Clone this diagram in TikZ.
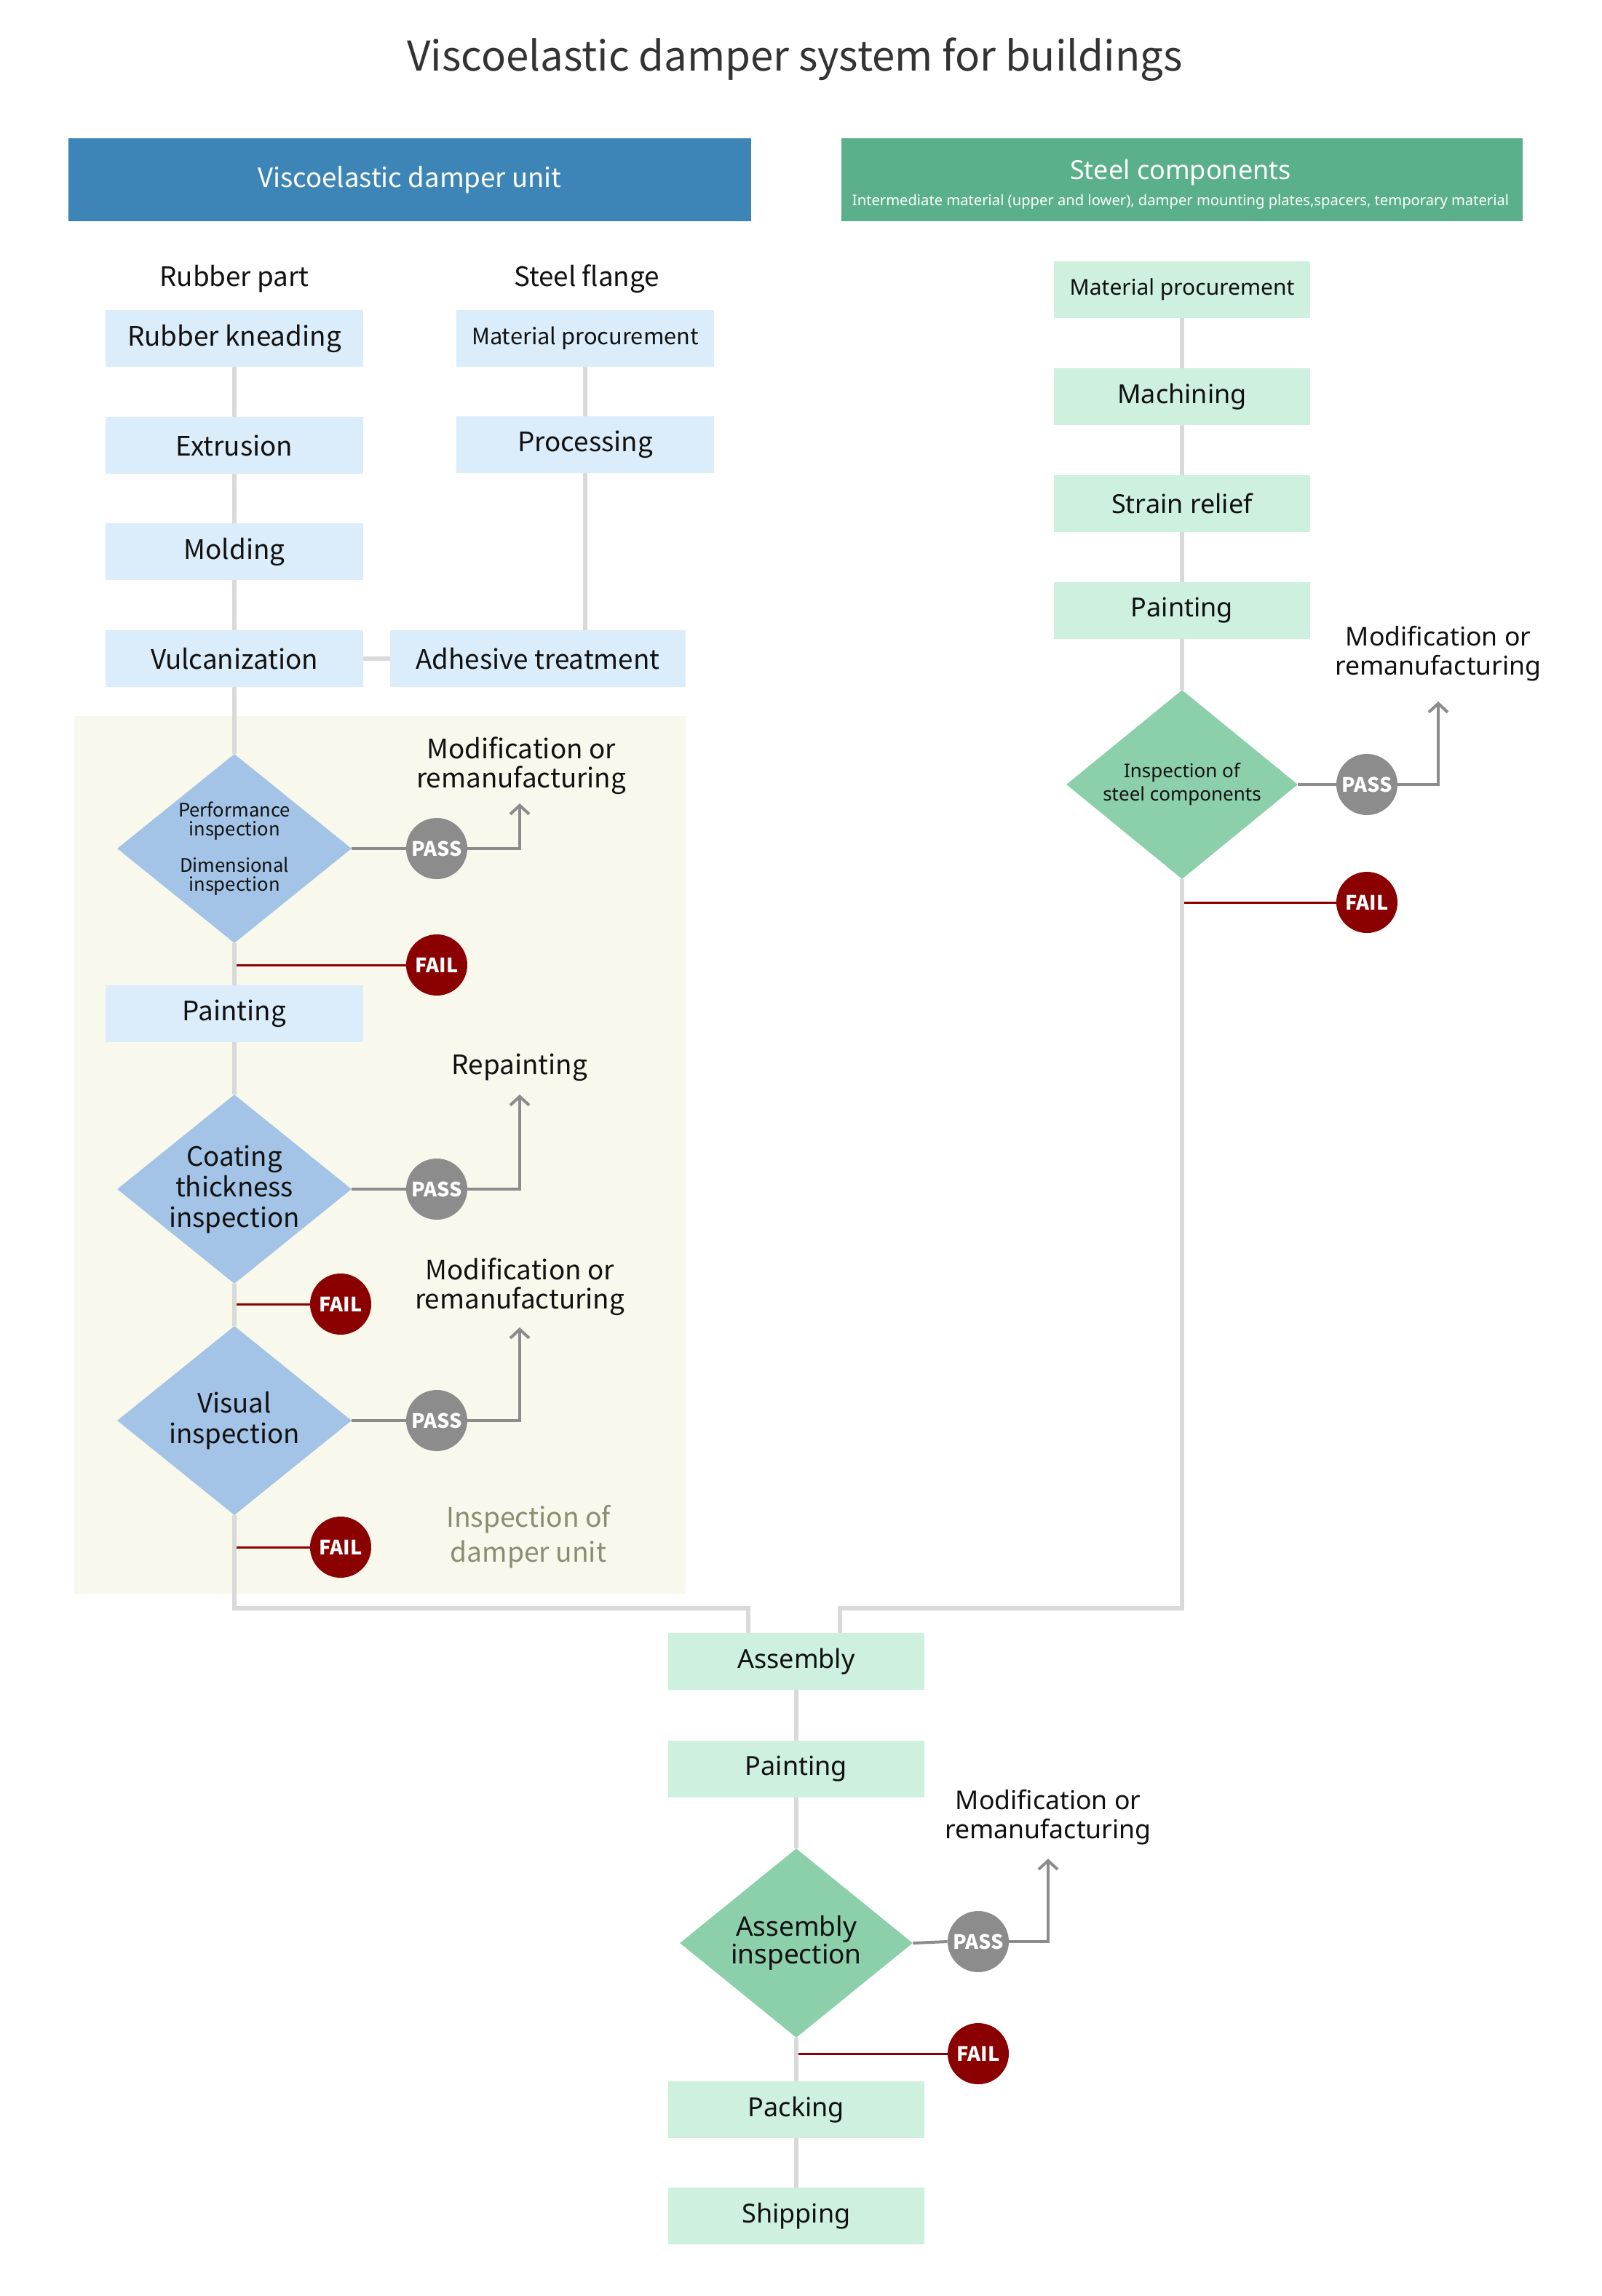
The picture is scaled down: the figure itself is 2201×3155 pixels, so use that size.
\documentclass[tikz,border=0pt]{standalone}
\usepackage{fontspec}
\setmainfont{Noto Sans CJK JP}
\newfontfamily\srcs{Noto Sans CJK JP}
\newfontfamily\nsans{Noto Sans}
\usetikzlibrary{shapes.geometric,arrows.meta,calc}
\definecolor{hdrblue}{HTML}{3D85B7}
\definecolor{hdrgreen}{HTML}{59B08A}
\definecolor{boxblue}{HTML}{DBEDFB}
\definecolor{boxgreen}{HTML}{CDF0DF}
\definecolor{diablue}{HTML}{A3C4E6}
\definecolor{diagreen}{HTML}{8CCFAB}
\definecolor{ivory}{HTML}{F8F8EC}
\definecolor{conngray}{HTML}{D9D9D9}
\definecolor{passgray}{HTML}{8C8C8C}
\definecolor{failred}{HTML}{8B0000}
\definecolor{olive}{HTML}{8C8C74}
\definecolor{titlec}{HTML}{333333}
\definecolor{txt}{HTML}{111111}
\newcommand\fs[2]{\fontsize{#1pt}{#2pt}\selectfont}
\begin{document}
\begin{tikzpicture}[x=0.5pt,y=-0.5pt,
  lbox/.style={fill=boxblue, minimum width=177pt, minimum height=39pt, inner sep=0pt, text=txt, font=\srcs\fs{18.4}{22}},
  gbox/.style={fill=boxgreen, minimum width=176pt, minimum height=39pt, inner sep=0pt, text=txt, font=\nsans\fs{18}{22}},
  ddia/.style={diamond, fill=diablue, minimum width=161pt, minimum height=130pt, inner sep=0pt},
  gdia/.style={diamond, fill=diagreen, minimum width=160pt, minimum height=130pt, inner sep=0pt},
  pass/.style={circle, fill=passgray, minimum size=42pt, inner sep=0pt, text=white, font=\srcs\bfseries\fs{13.6}{15}},
  fail/.style={circle, fill=failred, minimum size=42pt, inner sep=0pt, text=white, font=\srcs\bfseries\fs{13.6}{15}},
  npass/.style={pass},
  nfail/.style={fail},
  mtxt/.style={align=center, text=txt, font=\srcs\fs{18.4}{20}},
  mtxtn/.style={align=center, text=txt, font=\nsans\fs{17.8}{20}},
  conn/.style={draw=conngray, line width=3pt},
  gline/.style={draw=passgray, line width=2pt},
  garrow/.style={draw=passgray, line width=2pt, -{Straight Barb[length=6pt,width=13pt]}},
  rline/.style={draw=failred, line width=1.5pt, shorten >=1.5pt}
]
\useasboundingbox (0,0) rectangle (2201,3155);
\fill[white] (0,0) rectangle (2201,3155);

% title and headers
\node[font=\srcs\fs{28.2}{32}, text=titlec] (title) at (1092,82) {Viscoelastic damper system for buildings};
\node[fill=hdrblue, minimum width=469pt, minimum height=57pt, inner sep=0pt, text=white, font=\srcs\fs{18.3}{22}] (hdrL) at (563,247) {Viscoelastic damper unit};
\node[fill=hdrgreen, minimum width=468pt, minimum height=57pt, inner sep=0pt] (hdrR) at (1624,247) {};
\node[text=white, font=\nsans\fs{18}{20}] (hdrRt) at (1622,237) {Steel components};
\node[text=white, font=\nsans\fs{10.1}{12}] (hdrRs) at (1622,277) {Intermediate material (upper and lower), damper mounting plates,spacers, temporary material};

\node[text=txt, font=\srcs\fs{18.4}{22}] (rp) at (322,383) {Rubber part};
\node[text=txt, font=\srcs\fs{18.4}{22}] (sf) at (806,383) {Steel flange};

% inspection background
\node[fill=ivory, minimum width=420pt, minimum height=603pt, inner sep=0pt] (inspbg) at (522,1587) {};
\node[align=center, text=olive, font=\srcs\fs{18.6}{24}] (il) at (726,2112) {Inspection of\\damper unit};

% left column
\node[lbox] (rk) at (322,465) {Rubber kneading};
\node[lbox] (ex) at (322,612) {Extrusion};
\node[lbox] (mo) at (322,758) {Molding};
\node[lbox] (vu) at (322,905) {Vulcanization};
\node[lbox, font=\srcs\fs{15.4}{20}] (smp) at (804,465) {Material procurement};
\node[lbox] (spr) at (804,611) {Processing};
\node[lbox, minimum width=203pt] (adh) at (739,905) {Adhesive treatment};

\node[ddia, label={[align=center, text=txt, font=\srcs\fs{12.8}{13}]center:{Performance\\inspection\\[11pt]Dimensional\\inspection}}] (d1) at (322,1166) {};
\node[lbox] (lp) at (322,1393) {Painting};
\node[ddia, label={[align=center, text=txt, font=\srcs\fs{18.3}{21}]center:{Coating\\thickness\\inspection}}] (d2) at (322,1634) {};
\node[ddia, label={[align=center, text=txt, font=\srcs\fs{18.3}{21}]center:{Visual\\inspection}}] (d3) at (322,1952) {};

\node[pass] (p1) at (600,1166) {PASS};
\node[fail] (f1) at (600,1326) {FAIL};
\node[pass] (p2) at (600,1634) {PASS};
\node[fail] (f2) at (468,1792) {FAIL};
\node[pass] (p3) at (600,1952) {PASS};
\node[fail] (f3) at (468,2126) {FAIL};

\node[mtxt] (m1) at (716,1052) {Modification or\\remanufacturing};
\node[mtxt] (rep) at (714,1467) {Repainting};
\node[mtxt] (m3) at (714,1768) {Modification or\\remanufacturing};
\coordinate (a1) at (714,1104);
\coordinate (a2) at (714,1504);
\coordinate (a3) at (714,1824);

% right column
\node[gbox, font=\nsans\fs{15}{18}] (rmp) at (1624,398) {Material procurement};
\node[gbox] (rma) at (1624,545) {Machining};
\node[gbox] (rsr) at (1624,692) {Strain relief};
\node[gbox] (rpa) at (1624,839) {Painting};
\node[gdia, minimum width=159pt, label={[align=center, text=txt, font=\nsans\fs{13}{16}]center:{Inspection of\\steel components}}] (ds) at (1624,1078) {};
\node[npass] (p4) at (1878,1078) {PASS};
\node[nfail] (f4) at (1878,1240) {FAIL};
\coordinate (a4) at (1976,964);
\node[mtxtn] (m4) at (1976,898) {Modification or\\remanufacturing};

% bottom column
\node[gbox] (asm) at (1094,2283) {Assembly};
\node[gbox] (bpa) at (1094,2431) {Painting};
\node[gdia, label={[align=center, text=txt, font=\nsans\fs{18.5}{19}]center:{Assembly\\inspection}}] (db) at (1094,2670) {};
\node[npass] (p5) at (1344,2668) {PASS};
\node[nfail] (f5) at (1344,2822) {FAIL};
\node[gbox] (pk) at (1094,2899) {Packing};
\node[gbox] (sh) at (1094,3045) {Shipping};
\coordinate (a5) at (1440,2554);
\node[mtxtn] (m5) at (1440,2497) {Modification or\\remanufacturing};

\coordinate (jy) at (0,2210);
\coordinate (asmL) at (1028,2244);
\coordinate (asmR) at (1154,2244);

% connectors
\draw[conn] (rk) -- (ex);
\draw[conn] (ex) -- (mo);
\draw[conn] (mo) -- (vu);
\draw[conn] (vu) -- (d1);
\draw[conn] (d1) -- (lp);
\draw[conn] (lp) -- (d2);
\draw[conn] (d2) -- (d3);
\draw[conn] (vu) -- (adh);
\draw[conn] (smp) -- (spr);
\draw[conn] (spr.south) -- (spr.south |- adh.north);
\draw[conn] (d3.south) -- (d3.south |- jy) -| (asmL);

\draw[conn] (rmp) -- (rma);
\draw[conn] (rma) -- (rsr);
\draw[conn] (rsr) -- (rpa);
\draw[conn] (rpa) -- (ds);
\draw[conn] (ds.south) -- (ds.south |- jy) -| (asmR);

\draw[conn] (asm) -- (bpa);
\draw[conn] (bpa) -- (db);
\draw[conn] (db) -- (pk);
\draw[conn] (pk) -- (sh);

% pass / fail
\draw[gline] (d1.east) -- (p1.west);
\draw[garrow] (p1.east) -| (a1);
\draw[gline] (d2.east) -- (p2.west);
\draw[garrow] (p2.east) -| (a2);
\draw[gline] (d3.east) -- (p3.west);
\draw[garrow] (p3.east) -| (a3);
\draw[gline] (ds.east) -- (p4.west);
\draw[garrow] (p4.east) -| (a4);
\draw[gline] (db.east) -- (p5.west);
\draw[garrow] (p5.east) -| (a5);

\draw[rline] (f1.west) -- (f1.west -| d1.south);
\draw[rline] (f2.west) -- (f2.west -| d2.south);
\draw[rline] (f3.west) -- (f3.west -| d3.south);
\draw[rline] (f4.west) -- (f4.west -| ds.south);
\draw[rline] (f5.west) -- (f5.west -| db.south);
\end{tikzpicture}
\end{document}
